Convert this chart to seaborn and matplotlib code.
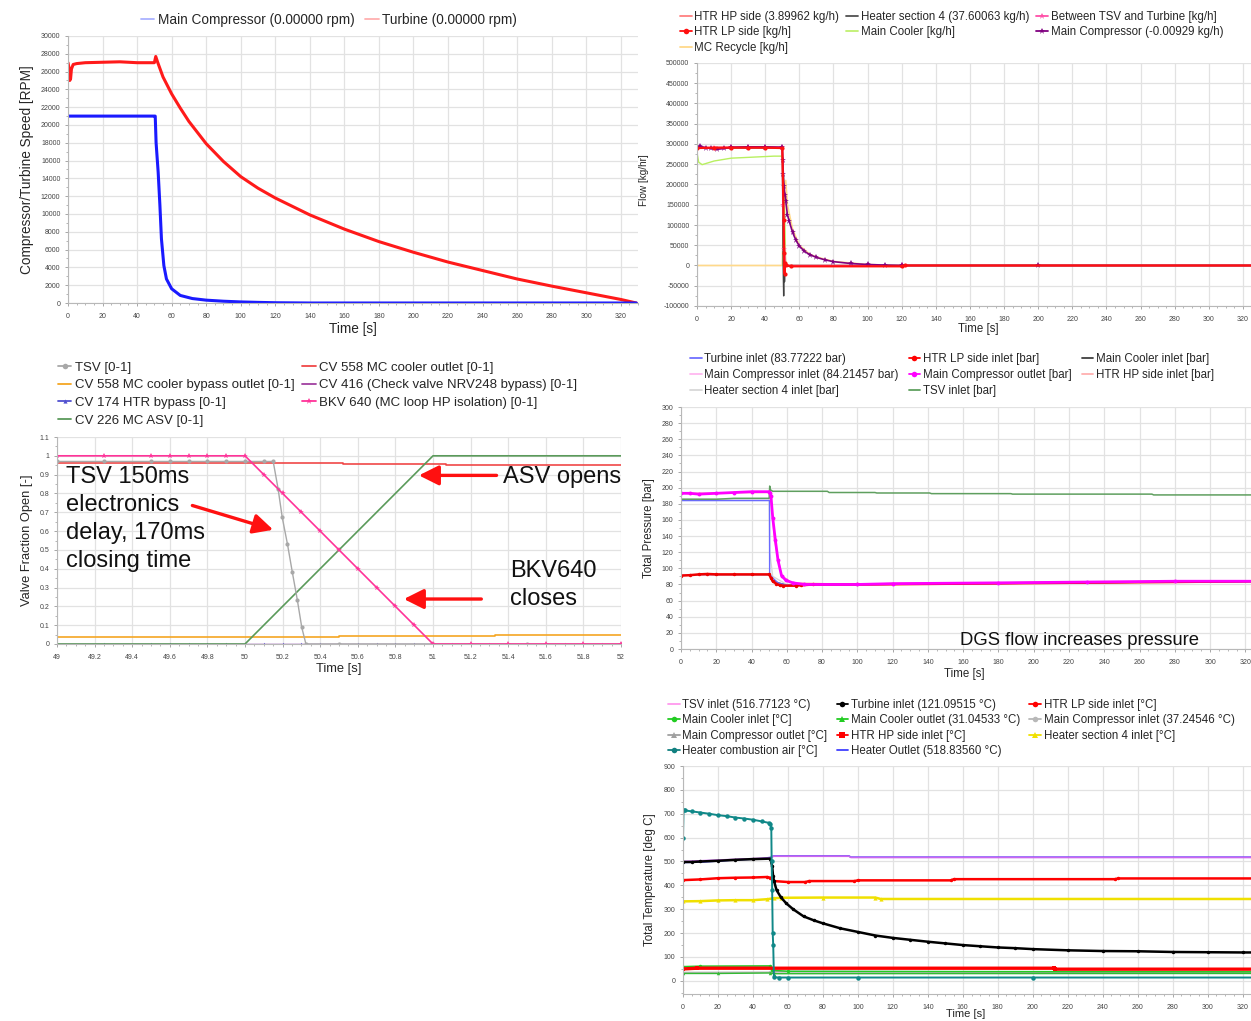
import numpy as np
import pandas as pd
import matplotlib
matplotlib.use('Agg')
import matplotlib.pyplot as plt
import seaborn as sns
from matplotlib.lines import Line2D
from matplotlib.ticker import MultipleLocator, FuncFormatter, AutoMinorLocator

# ---------------- DATA ----------------
# Panel 1: speeds [RPM]
turb_t = [0, 0.5, 1, 1.5, 2, 3, 5, 10, 20, 30, 40, 48, 50, 50.8, 52, 55, 60, 65, 70, 80, 90, 100,
          110, 120, 140, 160, 180, 200, 220, 240, 260, 280, 300, 320, 329]
turb_v = [27000, 26500, 25000, 25200, 26300, 26800, 26900, 27000, 27050, 27100, 27000, 27000, 27000,
          27700, 27000, 25400, 23500, 21900, 20400, 17900, 15900, 14200, 12900, 11800, 9900, 8300,
          6900, 5700, 4600, 3650, 2700, 1900, 1150, 400, 0]
comp_t = [0, 10, 20, 30, 40, 50, 50.5, 51, 52.2, 53.2, 54.1, 55.5, 57, 60, 65, 72, 80, 90, 100,
          110, 120, 140, 329]
comp_v = [21000, 21000, 21000, 21000, 21000, 21000, 21000, 18000, 14700, 11000, 7200, 4200, 2700,
          1600, 850, 500, 320, 200, 120, 70, 30, 0, 0]

# Panel 2: flows [kg/h]
mcf_t = [0, 2, 5, 8, 12, 16, 20, 30, 40, 50, 50.3, 50.6, 51, 51.5, 52, 53, 54, 56, 58, 60, 63, 66,
         70, 75, 80, 90, 100, 110, 120, 200, 330]
mcf_v = [293000, 294000, 291000, 289000, 287000, 289000, 292000, 293000, 293000, 292000, 260000,
         225000, 196000, 175000, 160000, 125000, 110000, 82000, 62000, 48000, 35000, 27000, 20000,
         14000, 9500, 5000, 2500, 1000, 0, 0, 0]
tsvf_t = [0, 10, 20, 30, 40, 50, 50.5, 51, 52, 120, 330]
tsvf_v = [292000, 291000, 292000, 293000, 293000, 292000, 150000, 40000, 0, 0, 0]
lpf_t = [0, 10, 20, 30, 40, 50, 50.8, 51, 51.3, 51.6, 52, 55, 120, 122, 330]
lpf_v = [290000, 291000, 291000, 291000, 291000, 290000, 113000, 30000, -20000, 5000, 0, -2000,
         -2000, 0, 0]
hpf_t = [0, 20, 50, 50.8, 52, 330]
hpf_v = [291000, 291000, 291000, 100000, 0, 0]
h4f_t = [0, 50, 50.5, 50.8, 51, 51.3, 51.6, 52, 330]
h4f_v = [290000, 290000, 0, -75000, 20000, -40000, 5000, 0, 0]
mclf_t = [0, 1, 3, 10, 20, 30, 45, 50, 51, 51.3, 52, 330]
mclf_v = [278000, 255000, 249000, 258000, 265000, 267000, 270000, 270000, 200000, 150000, 0, 0]
recf_t = [0, 50, 50.5, 51, 52, 53, 56, 60, 66, 70, 80, 100, 120, 330]
recf_v = [0, 0, 100000, 200000, 210000, 150000, 90000, 50000, 28000, 21000, 10000, 2500, 0, 0]

# Panel 3: valve positions [0-1]
bkv_t = [49.0, 49.25, 49.5, 49.6, 49.7, 49.8, 49.9, 50.0, 50.1, 50.2, 50.3, 50.4, 50.5, 50.6, 50.7,
         50.8, 50.9, 51.0, 51.2, 51.4, 51.6, 51.8, 52.0]
bkv_v = [1, 1, 1, 1, 1, 1, 1, 1, 0.9, 0.8, 0.7, 0.6, 0.5, 0.4, 0.3, 0.2, 0.1, 0, 0, 0, 0, 0, 0]
asv_t = [49.0, 50.0, 51.0, 52.0]
asv_v = [0, 0, 1, 1]
tsv_t = [49.0, 49.25, 49.5, 49.6, 49.7, 49.8, 49.9, 50.0, 50.1, 50.15, 50.176, 50.198, 50.226,
         50.252, 50.278, 50.302, 50.324, 50.5, 51.0, 51.5, 52.0]
tsv_v = [0.97, 0.97, 0.97, 0.97, 0.97, 0.97, 0.97, 0.97, 0.97, 0.97, 0.825, 0.673, 0.53, 0.38,
         0.236, 0.088, 0, 0, 0, 0, 0]
cvo_t = [49.0, 50.52, 50.52, 51.07, 51.07, 52.0]
cvo_v = [0.964, 0.964, 0.957, 0.957, 0.952, 0.952]
cvb_t = [49.0, 50.5, 50.5, 51.33, 51.33, 52.0]
cvb_v = [0.036, 0.036, 0.043, 0.043, 0.048, 0.048]
cv416_t = [49.0, 52.0]
cv416_v = [0, 0]
cv174_t = [49.0, 49.25, 49.5, 49.6, 49.7, 49.8, 49.9, 50.0, 50.1, 50.2, 50.3, 50.4, 50.5, 50.6,
           50.7, 50.8, 50.9, 51.0, 51.1, 51.2, 51.3, 51.4, 51.5, 51.6, 51.7, 51.8, 51.9, 52.0]
cv174_v = [0] * len(cv174_t)

# Panel 4: pressures [bar]
mco_t = [0, 5, 10, 20, 30, 40, 50, 50.5, 51, 52, 53.5, 55, 57, 59.5, 63.5, 70, 100, 120, 180, 230,
         280, 330]
mco_v = [193, 193, 192, 193, 194, 195, 195, 193, 190, 163, 135, 110, 91, 85, 82, 80, 80, 81, 82, 83,
         84, 84]
lpp_t = [0, 5, 10, 15, 20, 30, 40, 50, 51, 52, 54, 56, 58, 65, 68, 75, 100, 330]
lpp_v = [91, 91.5, 92.5, 93, 92.5, 92.5, 92.5, 92.5, 88, 84, 81, 79, 78.5, 78.5, 79, 80, 80, 84]
tip_t = [0, 50.2, 50.25, 52, 55, 60, 70, 330]
tip_v = [184, 184, 93, 88, 82, 79, 80, 83.8]
mcip_t = [0, 50, 52, 56, 60, 100, 330]
mcip_v = [92, 92, 84, 80, 79, 80, 84.2]
h4p_t = [0, 50, 50.3, 52, 60, 330]
h4p_v = [186, 186, 120, 90, 80, 84]
mclp_t = [0, 50, 52, 60, 330]
mclp_v = [92, 92, 84, 79, 84]
hpp_t = [0, 50, 51, 53, 57, 63, 100, 330]
hpp_v = [193, 194, 190, 135, 91, 82, 80, 84]
tsvp_t = [0, 10, 20, 30, 40, 50, 50.3, 50.6, 51, 52, 83, 84, 110, 111, 141, 142, 187, 188, 267,
          268, 330]
tsvp_v = [185.6, 185.6, 185.6, 186.8, 186.8, 186.8, 202, 195, 197, 195.5, 195.5, 194, 194, 193.4,
          193.4, 192.6, 192.6, 192, 192, 191, 191]

# Panel 5: temperatures [deg C]
comb_t = [0, 0.3, 1, 5, 10, 15, 20, 25, 30, 35, 40, 45, 49, 50, 50.5, 50.7, 51, 51.3, 51.6, 52, 55,
          60, 100, 200, 330]
comb_v = [600, 715, 714, 710, 705, 700, 694, 690, 684, 680, 675, 668, 662, 655, 640, 500, 380, 200,
          150, 15, 14, 14, 14, 14, 14]
hout_t = [0, 10, 20, 30, 40, 45, 50, 51, 52, 95, 96, 330]
hout_v = [496, 498, 502, 507, 510, 512, 517, 521, 523, 523, 518, 518]
tsvi_t = [0, 50, 51, 52, 95, 96, 330]
tsvi_v = [500, 515, 520, 522, 522, 517, 517]
tit_t = [0, 5, 10, 20, 30, 40, 50, 51, 51.5, 52, 53.5, 56, 59, 63, 69, 75, 80, 90, 100, 110, 120,
         130, 140, 150, 160, 170, 180, 190, 200, 220, 240, 260, 280, 300, 320, 330]
tit_v = [498, 498, 500, 503, 507, 510, 512, 480, 440, 420, 380, 350, 325, 300, 270, 253, 241, 220,
         205, 190, 180, 172, 164, 157, 150, 145, 140, 137, 133, 128, 125, 124, 121, 120, 119, 119]
lpt_t = [0, 10, 20, 30, 40, 48, 50, 52, 60, 70, 72, 98, 100, 153, 155, 247, 249, 330]
lpt_v = [422, 425, 430, 432, 433, 435, 432, 418, 414, 414, 418, 418, 421, 421, 426, 426, 429, 429]
h4t_t = [0, 10, 20, 30, 40, 48, 52, 56, 80, 110, 113, 330]
h4t_v = [333, 334, 337, 338, 338, 342, 346, 348, 349, 349, 343, 343]
hpt_t = [0, 8, 212, 213, 330]
hpt_v = [50, 53, 53, 49, 49]
mcit_t = [0, 10, 50, 51, 60, 330]
mcit_v = [60, 62, 63, 45, 40, 38]
mcot_t = [0, 20, 50, 52, 330]
mcot_v = [31, 31, 33, 30, 31]
mcin_t = [0, 50, 52, 330]
mcin_v = [35, 36, 38, 37]
mcout_t = [0, 50, 51, 330]
mcout_v = [58, 60, 40, 34]

# ---------------- FIGURE ----------------
sns.set_theme(style='whitegrid')
plt.rcParams['font.family'] = ['Liberation Sans', 'DejaVu Sans']

W, H = 1251, 1021
fig = plt.figure(figsize=(W / 100, H / 100), dpi=100)
fig.patch.set_facecolor('white')


def px_axes(left, top, right, bottom):
    return fig.add_axes([left / W, 1 - bottom / H, (right - left) / W, (bottom - top) / H])


def fmt(v, p):
    return f'{round(v, 4):g}'


def style(ax, xlim, ylim, xstep, ystep):
    ax.set_xlim(*xlim)
    ax.set_ylim(*ylim)
    ax.set_facecolor('white')
    ax.xaxis.set_major_locator(MultipleLocator(xstep))
    ax.yaxis.set_major_locator(MultipleLocator(ystep))
    ax.xaxis.set_minor_locator(AutoMinorLocator(4))
    ax.yaxis.set_minor_locator(AutoMinorLocator(2))
    ax.xaxis.set_major_formatter(FuncFormatter(fmt))
    ax.yaxis.set_major_formatter(FuncFormatter(fmt))
    ax.grid(True, which='major', color='#e2e2e2', lw=0.9)
    ax.grid(False, which='minor')
    for s in ['top', 'right']:
        ax.spines[s].set_visible(False)
    for s in ['left', 'bottom']:
        ax.spines[s].set_color('#b8b8b8')
        ax.spines[s].set_linewidth(0.8)
    ax.tick_params(which='both', labelsize=5, color='#999999', labelcolor='#444444',
                   bottom=True, left=True, direction='out')
    ax.tick_params(which='major', length=2.5, width=0.6)
    ax.tick_params(which='minor', length=1.5, width=0.5)
    ax.tick_params(axis='x', pad=5)
    ax.tick_params(axis='y', pad=3)


def draw(ax, t, v, color, lw=1.2, marker=None, ms=3, z=2):
    sns.lineplot(x=t, y=v, ax=ax, color=color, linewidth=lw, marker=marker, markersize=ms,
                 markeredgewidth=0, estimator=None, sort=False, legend=False, zorder=z)


def h(color, marker=None, lw=1.3, ms=4):
    return Line2D([], [], color=color, lw=lw, marker=marker, markersize=ms, markeredgewidth=0)


def legend(handles, labels, x, y, ncol, fs, ls, cs, loc='upper left'):
    fig.legend(handles, labels, loc=loc, bbox_to_anchor=(x / W, 1 - y / H), ncol=ncol,
               frameon=False, fontsize=fs, handlelength=1.0, handletextpad=0.25,
               columnspacing=cs, labelspacing=ls, borderpad=0, borderaxespad=0)


# ---------- Panel 1 ----------
ax1 = px_axes(68, 36, 638, 303)
draw(ax1, turb_t, turb_v, '#ff1a1a', lw=2.2)
draw(ax1, comp_t, comp_v, '#1a1aff', lw=2.2)
style(ax1, (0, 330), (0, 30000), 20, 2000)
ax1.set_xlabel('Time [s]', fontsize=9.8)
ax1.set_ylabel('Compressor/Turbine Speed [RPM]', fontsize=9.8)
ax1.xaxis.set_label_coords(0.5, -0.07)
ax1.yaxis.set_label_coords(-0.06, 0.5)
legend([h('#aab2ff'), h('#ffb0b0')],
       ['Main Compressor (0.00000 rpm)', 'Turbine (0.00000 rpm)'], 329, 13, 2, 9.8, 0.25, 0.8,
       loc='upper center')

# ---------- Panel 2 ----------
ax2 = px_axes(697, 63, 1260, 306)
draw(ax2, recf_t, recf_v, '#ffd98a', lw=1.2)
draw(ax2, mclf_t, mclf_v, '#b8f060', lw=1.0)
draw(ax2, h4f_t, h4f_v, '#404040', lw=1.0)
draw(ax2, hpf_t, hpf_v, '#ff8080', lw=1.0)
draw(ax2, tsvf_t, tsvf_v, '#ff4fa8', lw=1.0, marker='*', ms=4)
draw(ax2, mcf_t, mcf_v, '#800080', lw=1.2, marker='*', ms=4.5)
draw(ax2, lpf_t, lpf_v, '#ff1010', lw=1.6, marker='o', ms=3)
style(ax2, (0, 330), (-100000, 500000), 20, 50000)
ax2.set_xlabel('Time [s]', fontsize=8.3)
ax2.set_ylabel('Flow [kg/hr]', fontsize=7.2)
ax2.xaxis.set_label_coords(0.5, -0.072)
ax2.yaxis.set_label_coords(-0.085, 0.52)
legend([h('#ff8080'), h('#ff1010', 'o'), h('#ffd98a'), h('#505050'), h('#c0f070'),
        h('#ff4fa8', '*', ms=5), h('#800080', '*', ms=5)],
       ['HTR HP side (3.89962 kg/h)', 'HTR LP side [kg/h]', 'MC Recycle [kg/h]',
        'Heater section 4 (37.60063 kg/h)', 'Main Cooler [kg/h]',
        'Between TSV and Turbine [kg/h]', 'Main Compressor (-0.00929 kg/h)'],
       680, 11, 3, 8.3, 0.30, 0.62)

# ---------- Panel 3 ----------
ax3 = px_axes(57, 437, 621, 644)
draw(ax3, cv416_t, cv416_v, '#a040a0', lw=1.0)
draw(ax3, cv174_t, cv174_v, '#5050d0', lw=0.8, marker='^', ms=2.5)
draw(ax3, cvb_t, cvb_v, '#f5a623', lw=1.2)
draw(ax3, cvo_t, cvo_v, '#f04848', lw=1.2)
draw(ax3, asv_t, asv_v, '#5a9a5a', lw=1.2)
draw(ax3, tsv_t, tsv_v, '#a8a8a8', lw=1.0, marker='o', ms=3)
draw(ax3, bkv_t, bkv_v, '#ff3399', lw=1.2, marker='*', ms=4)
style(ax3, (49, 52), (0, 1.1), 0.2, 0.1)
ax3.set_xlabel('Time [s]', fontsize=9.3)
ax3.set_ylabel('Valve Fraction Open [-]', fontsize=9.3)
ax3.xaxis.set_label_coords(0.5, -0.09)
ax3.yaxis.set_label_coords(-0.043, 0.5)
legend([h('#a8a8a8', 'o'), h('#f5a623'), h('#5050d0', '^', ms=3), h('#5a9a5a'), h('#f04848'),
        h('#a040a0'), h('#ff3399', '*', ms=5)],
       ['TSV [0-1]', 'CV 558 MC cooler bypass outlet [0-1]', 'CV 174 HTR bypass [0-1]',
        'CV 226 MC ASV [0-1]', 'CV 558 MC cooler outlet [0-1]',
        'CV 416 (Check valve NRV248 bypass) [0-1]', 'BKV 640 (MC loop HP isolation) [0-1]'],
       58, 361.5, 2, 9.55, 0.40, 0.6)

arrow_kw = dict(arrowstyle='-|>,head_length=0.6,head_width=0.3', color='#ff1010', lw=2.4,
                mutation_scale=20, shrinkA=0, shrinkB=0)
ax3.annotate('', xy=(50.15, 0.607), xytext=(49.72, 0.736), arrowprops=arrow_kw)
ax3.annotate('', xy=(50.925, 0.896), xytext=(51.338, 0.896), arrowprops=arrow_kw)
ax3.annotate('', xy=(50.845, 0.239), xytext=(51.257, 0.239), arrowprops=arrow_kw)
for txt, yb in [('TSV 150ms', 483), ('electronics', 511), ('delay, 170ms', 539),
                ('closing time', 567)]:
    fig.text(66 / W, 1 - yb / H, txt, fontsize=17, va='baseline', ha='left', color='#111111')
fig.text(503 / W, 1 - 483 / H, 'ASV opens', fontsize=17, va='baseline', ha='left', color='#111111')
fig.text(510 / W, 1 - 577 / H, 'BKV640', fontsize=17, va='baseline', ha='left', color='#111111')
fig.text(510 / W, 1 - 605 / H, 'closes', fontsize=17, va='baseline', ha='left', color='#111111')

# ---------- Panel 4 ----------
ax4 = px_axes(681, 407, 1263, 649)
draw(ax4, h4p_t, h4p_v, '#d8d8d8', lw=1.0)
draw(ax4, mclp_t, mclp_v, '#404040', lw=1.0)
draw(ax4, mcip_t, mcip_v, '#ffb8f0', lw=1.0)
draw(ax4, tip_t, tip_v, '#6a6aff', lw=1.0)
draw(ax4, tsvp_t, tsvp_v, '#5f9f5f', lw=1.1)
draw(ax4, hpp_t, hpp_v, '#ffb0b0', lw=1.0)
draw(ax4, lpp_t, lpp_v, '#ee0000', lw=1.8, marker='o', ms=2.5)
draw(ax4, mco_t, mco_v, '#ff00ff', lw=2.0, marker='o', ms=2.8)
style(ax4, (0, 330), (0, 300), 20, 20)
ax4.set_xlabel('Time [s]', fontsize=8.3)
ax4.set_ylabel('Total Pressure [bar]', fontsize=8.3)
ax4.xaxis.set_label_coords(0.487, -0.08)
ax4.yaxis.set_label_coords(-0.045, 0.5)
legend([h('#7070ff'), h('#ffb8f0'), h('#d8d8d8'), h('#ff0000', 'o'), h('#ff00ff', 'o'),
        h('#60a060'), h('#404040'), h('#ffb0b0')],
       ['Turbine inlet (83.77222 bar)', 'Main Compressor inlet (84.21457 bar)',
        'Heater section 4 inlet [bar]', 'HTR LP side inlet [bar]', 'Main Compressor outlet [bar]',
        'TSV inlet [bar]', 'Main Cooler inlet [bar]', 'HTR HP side inlet [bar]'],
       690, 353, 3, 8.3, 0.35, 0.85)
fig.text(960 / W, 1 - 645 / H, 'DGS flow increases pressure', fontsize=13.3, va='baseline',
         ha='left', color='#111111')

# ---------- Panel 5 ----------
ax5 = px_axes(683, 766, 1260, 994)
draw(ax5, mcin_t, mcin_v, '#b8b8b8', lw=1.2, marker='o', ms=2.5)
draw(ax5, mcout_t, mcout_v, '#a0a0a0', lw=1.2, marker='^', ms=2.5)
draw(ax5, mcit_t, mcit_v, '#22cc22', lw=1.0, marker='o', ms=2.5)
draw(ax5, mcot_t, mcot_v, '#33bb33', lw=1.0, marker='^', ms=2.5)
draw(ax5, hpt_t, hpt_v, '#ff0000', lw=2.4, marker='s', ms=2.5)
draw(ax5, h4t_t, h4t_v, '#f0e000', lw=1.8, marker='^', ms=3)
draw(ax5, lpt_t, lpt_v, '#ff0000', lw=1.8, marker='o', ms=2.5)
draw(ax5, hout_t, hout_v, '#4040ff', lw=1.2)
draw(ax5, tsvi_t, tsvi_v, '#cc66ee', lw=1.2)
draw(ax5, tit_t, tit_v, '#000000', lw=1.8, marker='o', ms=2.5)
draw(ax5, comb_t, comb_v, '#108888', lw=1.4, marker='o', ms=3.2)
style(ax5, (0, 330), (-55, 900), 20, 100)
ax5.set_xlabel('Time [s]', fontsize=8)
ax5.set_ylabel('Total Temperature [deg C]', fontsize=8.3)
ax5.xaxis.set_label_coords(0.49, -0.066)
ax5.yaxis.set_label_coords(-0.047, 0.5)
legend([h('#ff99ee'), h('#22cc22', 'o'), h('#a0a0a0', '^'), h('#118080', 'o'),
        h('#000000', 'o'), h('#22cc22', '^'), h('#ff0000', 's'), h('#4040ff'),
        h('#ff0000', 'o'), h('#b8b8b8', 'o'), h('#f0e000', '^')],
       ['TSV inlet (516.77123 °C)', 'Main Cooler inlet [°C]', 'Main Compressor outlet [°C]',
        'Heater combustion air [°C]', 'Turbine inlet (121.09515 °C)',
        'Main Cooler outlet (31.04533 °C)', 'HTR HP side inlet [°C]',
        'Heater Outlet (518.83560 °C)', 'HTR LP side inlet [°C]',
        'Main Compressor inlet (37.24546 °C)', 'Heater section 4 inlet [°C]'],
       668, 699, 3, 8.3, 0.29, 0.78)

fig.savefig('out.png', dpi=100, facecolor='white')
